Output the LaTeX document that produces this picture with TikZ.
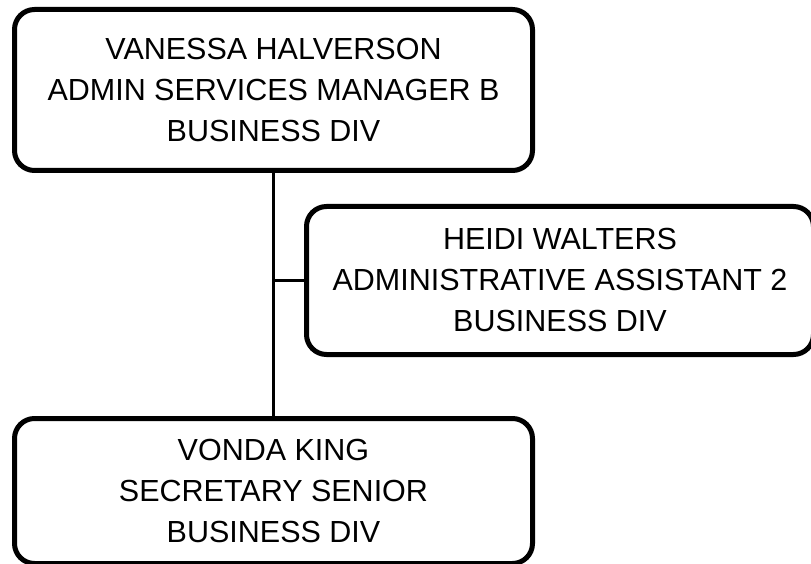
\documentclass[tikz,border=0pt]{standalone}
\usepackage{fontspec}
\setmainfont{Liberation Sans}
\usetikzlibrary{positioning}
\tikzset{
  box/.style={rectangle, rounded corners=20pt, draw=black, fill=white, line width=5pt,
              align=center, inner sep=0pt, font=\fontsize{30.5}{41}\selectfont},
  fl/.style={line width=2.5pt, draw=black},
}

\begin{document}
\begin{tikzpicture}[x=1pt,y=1pt]
  \useasboundingbox (0,0) rectangle (811,563);
  \node[box, minimum width=518pt, minimum height=161pt] (mgr) at (273.5,473)
    {VANESSA HALVERSON\\ADMIN SERVICES MANAGER B\\BUSINESS DIV};
  \node[box, minimum width=507pt, minimum height=148pt] (asst) at (560,282.5)
    {HEIDI WALTERS\\ADMINISTRATIVE ASSISTANT 2\\BUSINESS DIV};
  \node[box, minimum width=518pt, minimum height=145pt] (sec) at (273.5,72)
    {VONDA KING\\SECRETARY SENIOR\\BUSINESS DIV};
  \coordinate (tee) at (mgr.south |- asst.west);
  \draw[fl] (mgr.south) -- (sec.north);
  \draw[fl] (tee) -- (asst.west);
\end{tikzpicture}
\end{document}
